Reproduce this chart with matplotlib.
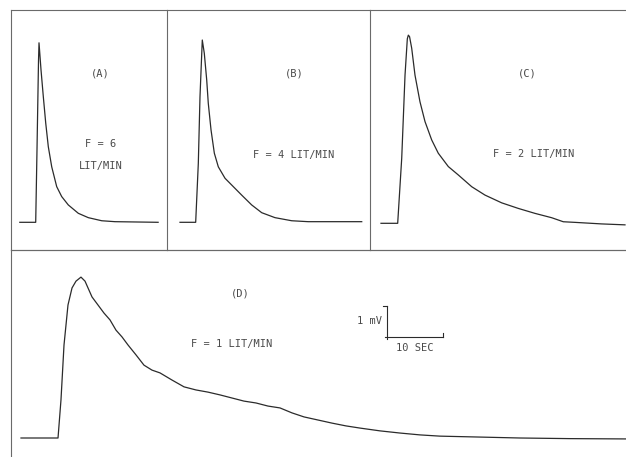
import matplotlib
matplotlib.use("Agg")
import matplotlib.pyplot as plt

# indicator dilution curves, time in seconds, signal in mV above baseline
t_a = [0.5, 3.34, 3.57, 3.84, 3.93, 4.29, 4.70, 5.13, 5.59, 6.20, 7.09, 7.98, 9.16, 10.95,
       12.73, 15.13, 17.5, 25.2]
v_a = [0, 0, 2.33, 5.2, 5.79, 4.91, 4.05, 3.2, 2.44, 1.79, 1.15, 0.83, 0.56, 0.29,
       0.15, 0.05, 0.02, 0]

t_b = [0, 2.80, 3.27, 3.57, 3.98, 4.34, 4.77, 5.05, 5.54, 6.13, 6.84, 8.04, 9.52, 11.0,
       12.8, 14.59, 16.96, 19.95, 22.9, 32.45]
v_b = [0, 0, 1.90, 4.05, 5.88, 5.45, 4.59, 3.84, 2.98, 2.23, 1.79, 1.42, 1.15, 0.88,
       0.56, 0.31, 0.15, 0.05, 0.02, 0.02]

t_c = [0, 2.98, 3.70, 4.29, 4.70, 4.88, 5.10, 5.48, 6.07, 6.96, 7.86, 9.05, 10.23, 12.02,
       13.80, 16.2, 18.57, 21.55, 24.52, 27.5, 30.48, 32.55, 34.64, 39.41, 43.57]
v_c = [0, 0, 2.10, 4.78, 5.95, 6.07, 6.02, 5.65, 4.78, 3.92, 3.28, 2.69, 2.26, 1.83,
       1.56, 1.18, 0.91, 0.66, 0.48, 0.32, 0.18, 0.05, 0.03, -0.02, -0.05]

t_d = [0, 6.61, 7.14, 7.68, 8.39, 9.11, 9.82, 10.71, 11.43, 12.14, 12.68, 13.75, 14.82, 15.89,
       16.96, 18.04, 19.11, 20.54, 21.96, 23.39, 24.82, 26.96, 29.11, 31.25, 33.39, 35.54, 37.68,
       39.82, 41.96, 44.11, 46.25, 48.39, 50.54, 53.04, 55.54, 58.04, 60.54, 64.11, 67.68, 71.25,
       74.82, 81.96, 89.11, 98.0, 108.2]
v_d = [0, 0, 1.23, 3.0, 4.29, 4.84, 5.06, 5.19, 5.06, 4.77, 4.55, 4.29, 4.03, 3.81,
       3.48, 3.26, 3.0, 2.68, 2.35, 2.19, 2.10, 1.87, 1.65, 1.55, 1.48, 1.39, 1.29,
       1.19, 1.13, 1.03, 0.97, 0.81, 0.68, 0.58, 0.48, 0.39, 0.32, 0.23, 0.16, 0.10,
       0.06, 0.03, 0, -0.02, -0.03]

labels = ["(A)", "(B)", "(C)", "(D)"]
flows = ["F = 6\n\nLIT/MIN", "F = 4 LIT/MIN", "F = 2 LIT/MIN", "F = 1 LIT/MIN"]
scale_sec = 10
scale_mv = 1

W, H = 626, 457
PX_S = 5.6   # pixels per second
PX_MV = 31   # pixels per mV

fig = plt.figure(figsize=(W / 100, H / 100), dpi=100)
fig.patch.set_facecolor("white")

# panel box (x0, y0, x1, y1) in pixels, curve origin (x, baseline y), visible spines
panels = [
    ((11, 10, 167, 250), (17, 222.3), ["left", "top", "right", "bottom"]),
    ((167, 10, 370, 250), (180, 222.3), ["top", "right", "bottom"]),
    ((370, 10, 630, 250), (381, 223.3), ["top", "bottom"]),
    ((11, 250, 630, 462), (21, 438), ["left", "top"]),
]
curves = [(t_a, v_a), (t_b, v_b), (t_c, v_c), (t_d, v_d)]
text_pos = [((100, 73), (101, 155)), ((294, 73), (294, 155)),
            ((527, 73), (534, 154)), ((240, 294), (232, 344))]

line_col = "#2b2b2b"
txt_col = "#4a4a4a"
font = dict(family="DejaVu Sans Mono", fontsize=7.5, color=txt_col)

axes = []
for (box, org, spines), (t, v) in zip(panels, curves):
    x0, y0, x1, y1 = box
    ax = fig.add_axes([x0 / W, 1 - y1 / H, (x1 - x0) / W, (y1 - y0) / H])
    ax.plot(t, v, color=line_col, lw=0.9)
    ax.set_xlim((x0 - org[0]) / PX_S, (x1 - org[0]) / PX_S)
    ax.set_ylim((org[1] - y1) / PX_MV, (org[1] - y0) / PX_MV)
    ax.set_xticks([])
    ax.set_yticks([])
    ax.set_facecolor("none")
    for s in ax.spines:
        ax.spines[s].set_visible(s in spines)
        ax.spines[s].set_color("#6a6a6a")
        ax.spines[s].set_linewidth(0.8)
    axes.append(ax)

for (p1, p2), lab, fl in zip(text_pos, labels, flows):
    fig.text(p1[0] / W, 1 - p1[1] / H, lab, ha="center", va="center", **font)
    fig.text(p2[0] / W, 1 - p2[1] / H, fl, ha="center", va="center", linespacing=1.1, **font)

# calibration bar in panel D
axd = axes[3]
bx = (387 - 21) / PX_S
by = (438 - 337) / PX_MV
axd.plot([bx - 0.3, bx + scale_sec], [by, by], color=line_col, lw=0.8)
axd.plot([bx, bx], [by - 0.05, by + scale_mv], color=line_col, lw=0.8)
axd.plot([bx - 0.8, bx], [by + scale_mv, by + scale_mv], color=line_col, lw=0.8)
axd.plot([bx + scale_sec, bx + scale_sec], [by, by + 0.12], color=line_col, lw=0.8)
axd.text(bx - 0.9, by + scale_mv / 2, f"{scale_mv} mV", ha="right", va="center", **font)
axd.text(bx + scale_sec / 2, by - 0.2, f"{scale_sec} SEC", ha="center", va="top", **font)

fig.savefig("out.png", dpi=100)
